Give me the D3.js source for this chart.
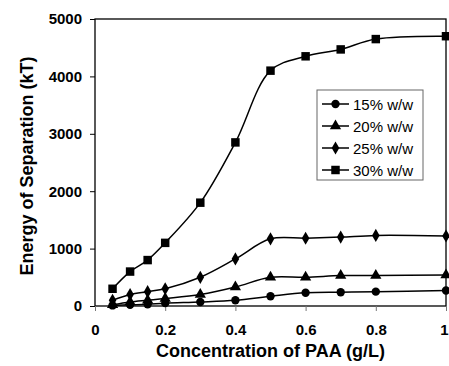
<!DOCTYPE html>
<html>
<head>
<meta charset="utf-8">
<script src="https://cdn.jsdelivr.net/npm/d3@7"></script>
<style>
  body { margin: 0; background: #fff; }
  text { font-family: "Liberation Sans", Arial, sans-serif; }
</style>
</head>
<body>
<svg id="chart" width="449" height="366"></svg>
<script>
// concentration of PAA (g/L)
const conc = [0.05, 0.1, 0.15, 0.2, 0.3, 0.4, 0.5, 0.6, 0.7, 0.8, 1.0];
const w15 = [10, 20, 30, 50, 70, 100, 170, 230, 240, 250, 270];
const w20 = [20, 70, 100, 130, 200, 330, 500, 500, 530, 530, 540];
const w25 = [100, 200, 250, 300, 500, 820, 1170, 1180, 1200, 1230, 1220];
const w30 = [300, 600, 800, 1100, 1800, 2850, 4100, 4350, 4470, 4650, 4700];
const seriesNames = ['15% w/w', '20% w/w', '25% w/w', '30% w/w'];
const xTicks = [0, 0.2, 0.4, 0.6, 0.8, 1];
const yTicks = [0, 1000, 2000, 3000, 4000, 5000];

const svg = d3.select('#chart');
const mLeft = 95, mRight = 446, mTop = 19, mBottom = 306;

const x = d3.scaleLinear().domain([0, 1]).range([mLeft, mRight]);
const y = d3.scaleLinear().domain([0, 5000]).range([mBottom, mTop]);

// frame
svg.append('rect')
  .attr('x', mLeft).attr('y', mTop)
  .attr('width', mRight - mLeft).attr('height', mBottom - mTop)
  .attr('fill', 'none').attr('stroke', '#000').attr('stroke-width', 1.3);

const xAxis = svg.append('g')
  .attr('transform', 'translate(0,' + mBottom + ')')
  .call(d3.axisBottom(x).tickValues(xTicks).tickSize(5).tickPadding(13)
    .tickFormat(d => d === 0 || d === 1 ? d3.format('d')(d) : d3.format('.1f')(d)));
xAxis.select('.domain').remove();
xAxis.selectAll('line').attr('stroke', '#777');
xAxis.selectAll('text').attr('font-size', 15).attr('font-weight', 'bold')
  .attr('font-family', '"Liberation Sans", Arial, sans-serif');
// last label sits at the window edge; keep it inside
xAxis.selectAll('text').filter(d => d === 1).attr('dx', -2);

const yAxis = svg.append('g')
  .attr('transform', 'translate(' + mLeft + ',0)')
  .call(d3.axisLeft(y).tickValues(yTicks).tickSize(5).tickPadding(8).tickFormat(d3.format('d')));
yAxis.select('.domain').remove();
yAxis.selectAll('text').attr('font-size', 15).attr('font-weight', 'bold')
  .attr('font-family', '"Liberation Sans", Arial, sans-serif');

svg.append('text')
  .attr('transform', 'translate(33,166) rotate(-90)')
  .attr('text-anchor', 'middle')
  .attr('font-size', 18).attr('font-weight', 'bold')
  .text('Energy of Separation (kT)');

svg.append('text')
  .attr('x', (mLeft + mRight) / 2).attr('y', 357)
  .attr('text-anchor', 'middle')
  .attr('font-size', 18).attr('font-weight', 'bold')
  .text('Concentration of PAA (g/L)');

const symbols = [d3.symbolCircle, d3.symbolTriangle, d3.symbolDiamond, d3.symbolSquare];
const symSizes = [55, 55, 50, 72];
const allSeries = [w15, w20, w25, w30];

const line = d3.line()
  .x(d => x(d[0]))
  .y(d => y(d[1]))
  .curve(d3.curveCatmullRom.alpha(0.5));

allSeries.forEach((vals, i) => {
  const pts = conc.map((c, j) => [c, vals[j]]);
  svg.append('path')
    .datum(pts)
    .attr('d', line)
    .attr('fill', 'none')
    .attr('stroke', '#000')
    .attr('stroke-width', 1.5);
  svg.append('g').selectAll('path')
    .data(pts)
    .enter().append('path')
    .attr('transform', d => 'translate(' + x(d[0]) + ',' + y(d[1]) + ')')
    .attr('d', d3.symbol().type(symbols[i]).size(symSizes[i]))
    .attr('fill', '#000');
});

// legend
const lg = svg.append('g');
lg.append('rect')
  .attr('x', 317).attr('y', 90).attr('width', 106).attr('height', 90)
  .attr('fill', '#fff').attr('stroke', '#666').attr('stroke-width', 1);
seriesNames.forEach((name, i) => {
  const cy = 104 + i * 22;
  lg.append('line')
    .attr('x1', 322).attr('x2', 349).attr('y1', cy).attr('y2', cy)
    .attr('stroke', '#000').attr('stroke-width', 1.5);
  lg.append('path')
    .attr('transform', 'translate(335.5,' + cy + ')')
    .attr('d', d3.symbol().type(symbols[i]).size(symSizes[i]))
    .attr('fill', '#000');
  lg.append('text')
    .attr('x', 353).attr('y', cy + 5.5)
    .attr('font-size', 15)
    .text(name);
});
</script>
</body>
</html>
